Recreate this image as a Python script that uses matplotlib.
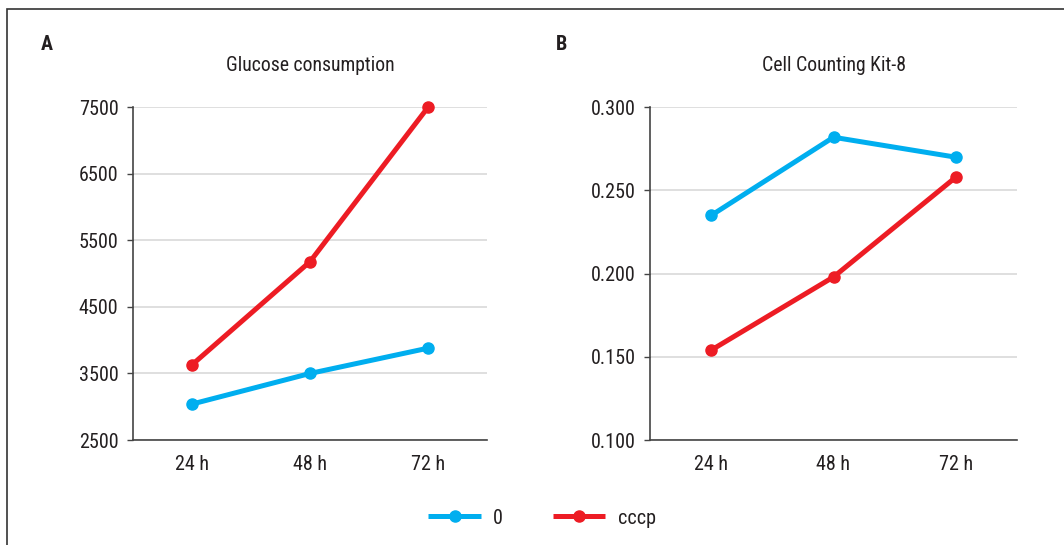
import matplotlib
matplotlib.use("Agg")
import matplotlib.pyplot as plt
from matplotlib.patches import Rectangle

plt.rcParams['font.family'] = ['Roboto Condensed', 'DejaVu Sans']

categories = ["24 h", "48 h", "72 h"]
series_names = ["0", "cccp"]
glucose_0 = [3040, 3500, 3880]
glucose_cccp = [3630, 5180, 7500]
cck_0 = [0.235, 0.282, 0.270]
cck_cccp = [0.154, 0.198, 0.258]
glucose_ticks = [2500, 3500, 4500, 5500, 6500, 7500]
cck_ticks = [0.100, 0.150, 0.200, 0.250, 0.300]
titles = ["Glucose consumption", "Cell Counting Kit-8"]
panel_labels = ["A", "B"]

BLUE = "#00AEEF"
RED = "#ED1C24"
TXT = "#231F20"

W, H = 1064, 545
fig = plt.figure(figsize=(W / 100, H / 100), dpi=100)

# outer frame
fig.patches.append(Rectangle((7 / W, -0.1), 1.2, 1 - 9 / H + 0.1, transform=fig.transFigure,
                             fill=False, edgecolor="#333333", linewidth=1.2))

def px_axes(x0, x1, y0, y1):
    return fig.add_axes([x0 / W, 1 - y1 / H, (x1 - x0) / W, (y1 - y0) / H])

ax1 = px_axes(133, 487, 107.3, 440)
ax2 = px_axes(650, 1017, 107.3, 440)

xs = list(range(len(categories)))
for ax, d0, dc, ticks, fmt, title in [
    (ax1, glucose_0, glucose_cccp, glucose_ticks, "{:.0f}", titles[0]),
    (ax2, cck_0, cck_cccp, cck_ticks, "{:.3f}", titles[1]),
]:
    ax.plot(xs, d0, color=BLUE, lw=3.6, marker="o", ms=8, label=series_names[0],
            solid_capstyle="butt", zorder=3, clip_on=False)
    ax.plot(xs, dc, color=RED, lw=3.6, marker="o", ms=8, label=series_names[1],
            solid_capstyle="butt", zorder=3, clip_on=False)
    ax.set_xlim(-0.5, 2.5)
    ax.set_ylim(ticks[0], ticks[-1])
    ax.set_yticks(ticks)
    ax.set_yticklabels([fmt.format(t) for t in ticks])
    ax.set_xticks(xs)
    ax.set_xticklabels(categories)
    ax.grid(axis="y", color="#D9D9D9", lw=1.2, zorder=0)
    ax.set_axisbelow(True)
    for s in ["top", "right"]:
        ax.spines[s].set_visible(False)
    for s in ["left", "bottom"]:
        ax.spines[s].set_color("#444444")
        ax.spines[s].set_linewidth(1.2)
    ax.tick_params(axis="y", length=4.5, width=1.0, color="#444444", pad=6,
                   labelsize=14.5, labelcolor=TXT)
    ax.tick_params(axis="x", length=0, pad=11, labelsize=14.5, labelcolor=TXT)
    ax.set_title(title, fontsize=14.2, color=TXT, pad=26)

fig.text(47 / W, 1 - 44 / H, panel_labels[0], fontsize=14.5, fontweight="bold",
         color=TXT, ha="center", va="center")
fig.text(562 / W, 1 - 44 / H, panel_labels[1], fontsize=14.5, fontweight="bold",
         color=TXT, ha="center", va="center")

handles, labels = ax1.get_legend_handles_labels()
fig.legend(handles, labels, loc="center", bbox_to_anchor=(542 / W, 1 - 518 / H),
           ncol=2, frameon=False, fontsize=14.5, handlelength=2.6, handletextpad=0.6,
           columnspacing=2.5, labelcolor=TXT)

fig.savefig("out.png", dpi=100)
